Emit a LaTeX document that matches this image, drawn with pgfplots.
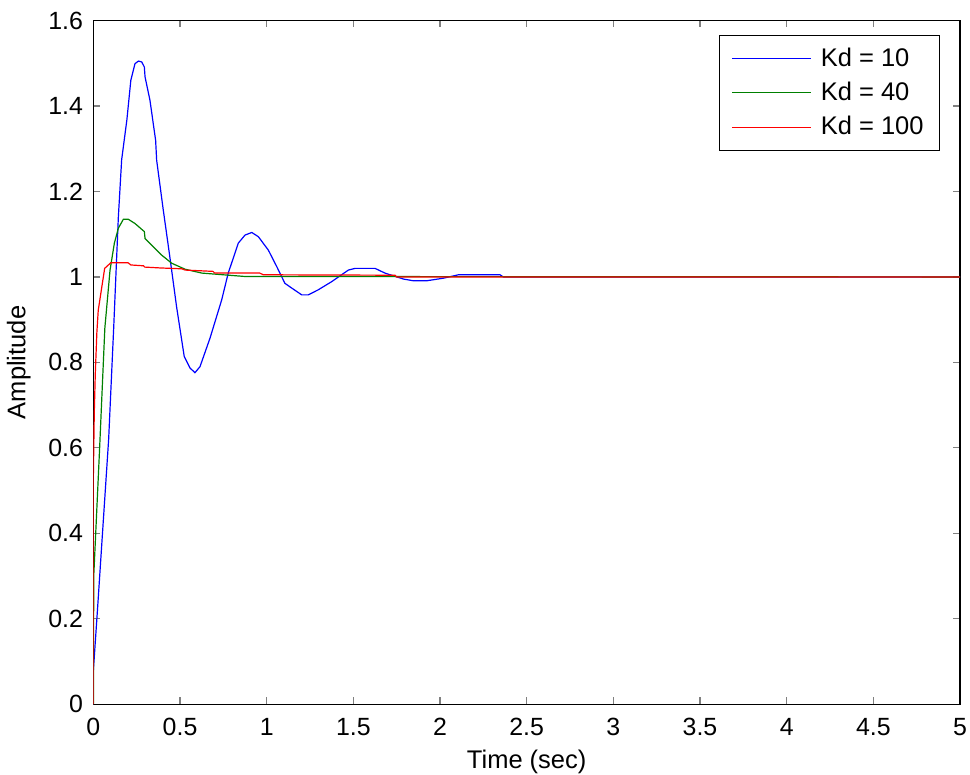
\documentclass[border=0pt]{standalone}
\usepackage{fontspec}
\setmainfont{Liberation Sans}
\usepackage{pgfplots}
\pgfplotsset{compat=1.18}

\definecolor{mblue}{rgb}{0,0,1}
\definecolor{mgreen}{rgb}{0,0.5,0}
\definecolor{mred}{rgb}{1,0,0}

\pgfplotsset{
    legend image code/.code={\draw[#1] (0bp,0bp) -- (39.5bp,0bp);}
}
\newcommand{\lf}{\fontsize{12.8}{15}\selectfont\hspace{2.5bp}}

\begin{document}
\begin{tikzpicture}
\begin{axis}[
    at={(0,0)}, anchor=south west,
    scale only axis,
    width=433.3bp, height=341.9bp,
    xmin=0, xmax=5, ymin=0, ymax=1.6,
    xtick={0,0.5,1,1.5,2,2.5,3,3.5,4,4.5,5},
    ytick={0,0.2,0.4,0.6,0.8,1,1.2,1.4,1.6},
    tick align=inside,
    major tick length=3.5bp,
    axis line style={line width=0.6bp},
    major tick style={line width=0.6bp},
    /pgf/number format/assume math mode=true,
    tick label style={font=\fontsize{12.5}{15}\selectfont},
    xticklabel style={inner sep=0pt, yshift=-6.8bp},
    yticklabel style={inner sep=0pt, xshift=-5bp},
    xlabel={Time (sec)},
    ylabel={Amplitude},
    label style={font=\fontsize{12.8}{15}\selectfont},
    xlabel style={at={([yshift=-31.9bp]axis description cs:0.5,0)}, anchor=base, inner sep=0pt},
    ylabel style={at={([xshift=-34bp]axis description cs:0,0.5)}, anchor=base, inner sep=0pt},
    legend style={at={(rel axis cs:1,1)}, anchor=north east, xshift=-10bp, yshift=-7.25bp,
        inner xsep=6bp, inner ysep=4.1bp, row sep=2.5bp},
    legend cell align=left,
]
\addplot[color=mblue, line width=0.6bp] coordinates {
(0,0)(0,0.08)(0.025,0.23)(0.05,0.385)(0.088,0.62)(0.117,0.88)(0.144,1.14)(0.163,1.274)
(0.193,1.367)(0.216,1.46)(0.24,1.499)(0.26,1.505)(0.279,1.503)(0.294,1.491)(0.298,1.468)
(0.326,1.414)(0.359,1.32)(0.365,1.273)(0.403,1.157)(0.44,1.05)(0.48,0.93)(0.524,0.814)
(0.557,0.787)(0.586,0.776)(0.615,0.79)(0.673,0.857)(0.74,0.946)(0.778,1.009)(0.836,1.079)
(0.875,1.098)(0.914,1.104)(0.952,1.094)(1.009,1.063)(1.058,1.024)(1.105,0.985)(1.144,0.974)
(1.202,0.958)(1.24,0.958)(1.298,0.97)(1.375,0.989)(1.471,1.016)(1.51,1.02)(1.625,1.02)
(1.682,1.009)(1.789,0.995)(1.846,0.991)(1.923,0.991)(2.019,0.997)(2.106,1.005)(2.346,1.005)
(2.365,1.0)(5,1)
};
\addlegendentry{\lf Kd = 10}
\addplot[color=mgreen, line width=0.6bp] coordinates {
(0,0)(0.002,0.3)(0.036,0.6)(0.066,0.88)(0.096,1.016)(0.121,1.079)(0.144,1.114)(0.173,1.135)
(0.201,1.135)(0.24,1.125)(0.294,1.106)(0.298,1.09)(0.394,1.051)(0.452,1.032)(0.529,1.018)
(0.625,1.009)(0.875,1.001)(5,1)
};
\addlegendentry{\lf Kd = 40}
\addplot[color=mred, line width=0.6bp] coordinates {
(0,0)(0,0.54)(0.005,0.68)(0.011,0.774)(0.02,0.87)(0.028,0.922)(0.065,1.02)(0.1,1.033)
(0.2,1.033)(0.216,1.028)(0.289,1.026)(0.296,1.023)(0.386,1.021)(0.51,1.019)(0.53,1.016)
(0.69,1.013)(0.70,1.009)(0.96,1.009)(0.98,1.005)(1.74,1.004)(1.75,1.0)(5,1)
};
\addlegendentry{\lf Kd = 100}
\end{axis}
\pgfresetboundingbox
\path[use as bounding box] (-46.7bp,-35.35bp) rectangle (438.3bp,352.15bp);
\end{tikzpicture}
\end{document}
